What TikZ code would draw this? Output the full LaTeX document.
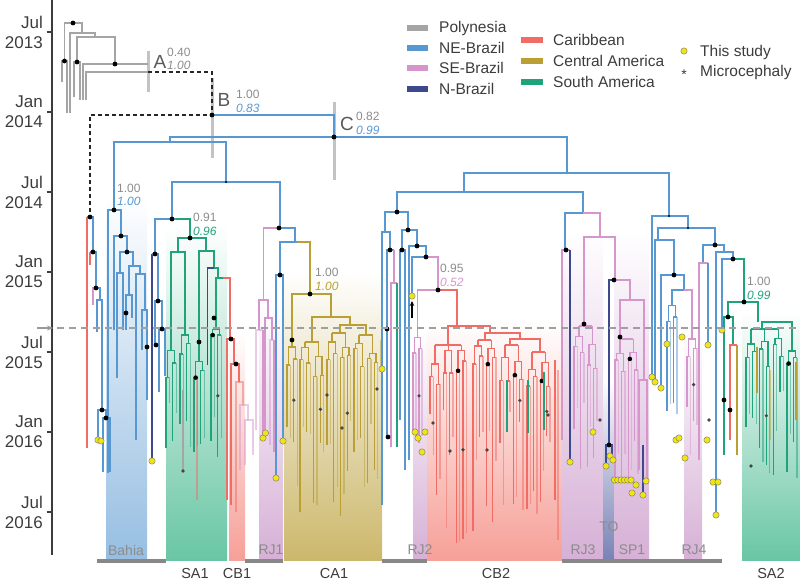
\documentclass[tikz,border=0pt]{standalone}
\usepackage{fontspec}
\setmainfont{Liberation Sans}
\usetikzlibrary{arrows.meta}
\definecolor{cPoly}{RGB}{165,165,165}
\definecolor{cNE}{RGB}{88,152,210}
\definecolor{cSE}{RGB}{214,150,204}
\definecolor{cNB}{RGB}{62,72,140}
\definecolor{cCB}{RGB}{240,108,100}
\definecolor{cCA}{RGB}{186,160,52}
\definecolor{cSA}{RGB}{32,162,122}
\definecolor{cYel}{RGB}{240,228,20}
\definecolor{cTxt}{RGB}{60,60,60}
\definecolor{cLab}{RGB}{140,140,140}
\definecolor{cBar}{RGB}{195,195,195}
\definecolor{cGbar}{RGB}{135,135,135}
\definecolor{sBahia}{RGB}{150,190,226}
\definecolor{sSA}{RGB}{105,198,165}
\definecolor{sCB}{RGB}{246,160,152}
\definecolor{sSE}{RGB}{214,176,214}
\definecolor{sCA}{RGB}{204,184,108}
\definecolor{sTO}{RGB}{120,130,182}
\newcommand\grp[7]{%
 \pgfmathsetmacro\zxa{#2+1.5*#3}%
 \pgfmathsetmacro\zxb{#2+(4*#4-2.5)*#3}%
 \draw[#1] (\zxa,#5)--(\zxb,#5);
 \foreach \g in {1,...,#4}{%
   \pgfmathsetmacro\zgx{#2+(4*\g-4)*#3}%
   \pgfmathsetmacro\zga{#5+5+rnd*16}%
   \pgfmathsetmacro\zgb{\zga+4+rnd*24}%
   \pgfmathsetmacro\zgc{\zga+4+rnd*24}%
   \pgfmathsetmacro\zea{#6+rnd*#7}%
   \pgfmathsetmacro\zeb{#6+rnd*#7}%
   \pgfmathsetmacro\zec{#6+rnd*#7}%
   \pgfmathsetmacro\zed{#6+rnd*#7}%
   \draw[#1] (\zgx+1.5*#3,#5)--(\zgx+1.5*#3,\zga);
   \draw[#1] (\zgx+0.5*#3,\zgb)--(\zgx+0.5*#3,\zga)--(\zgx+2.5*#3,\zga)--(\zgx+2.5*#3,\zgc);
   \draw[#1] (\zgx,\zea)--(\zgx,\zgb)--(\zgx+#3,\zgb);
   \draw[#1,draw opacity=0.5] (\zgx+#3,\zgb)--(\zgx+#3,\zeb);
   \draw[#1] (\zgx+2*#3,\zec)--(\zgx+2*#3,\zgc)--(\zgx+3*#3,\zgc);
   \draw[#1,draw opacity=0.5] (\zgx+3*#3,\zgc)--(\zgx+3*#3,\zed);
   \pgfmathtruncatemacro\zdd{rnd<0.35}%
   \ifnum\zdd=1 \fill (\zgx+0.5*#3,\zgb) circle (2.3pt);\fi
   \pgfmathtruncatemacro\zss{rnd<0.3}%
   \ifnum\zss=1 \fill[gray!55!black] (\zgx+2*#3,{(\zgc+\zec)/2}) circle (1.8pt);\fi
 }}
\newcommand\yel[2]{\filldraw[fill=cYel,draw=black!55,line width=0.4pt] (#1,#2) circle (3.2pt);}
\newcommand\dotb[2]{\fill (#1,#2) circle (2.4pt);}
\newcommand\stg[2]{\fill[gray!55!black] (#1,#2) circle (1.8pt);}
\begin{document}
\begin{tikzpicture}[x=1pt,y=-1pt,
  br/.style={line width=1.3pt},
  poly/.style={br,draw=cPoly},
  ne/.style={br,draw=cNE},
  se/.style={br,draw=cSE},
  sep/.style={br,draw=cSE,draw opacity=0.5},
  nb/.style={br,draw=cNB},
  cb/.style={br,draw=cCB},
  cbp/.style={br,draw=cCB,draw opacity=0.5},
  ca/.style={br,draw=cCA},
  capale/.style={br,draw=cCA,draw opacity=0.5},
  sa/.style={br,draw=cSA},
  dsh/.style={line width=1.2pt,draw=black!85,dash pattern=on 4pt off 3pt},
  ticklab/.style={font=\fontsize{17}{20}\selectfont,text=cTxt,align=right,anchor=east,inner sep=0pt},
  leg/.style={font=\fontsize{15.5}{18}\selectfont,text=cTxt,anchor=west,inner sep=0pt},
  num/.style={font=\fontsize{12}{12}\selectfont,anchor=west,inner sep=0pt},
  inum/.style={font=\fontsize{12}{12}\selectfont\itshape,anchor=west,inner sep=0pt},
  big/.style={font=\fontsize{19}{22}\selectfont,text=black!65,inner sep=0pt},
  inlab/.style={font=\fontsize{14}{16}\selectfont,text=cLab,inner sep=0pt},
  outlab/.style={font=\fontsize{14.5}{15}\selectfont,text=cTxt,inner sep=0pt}]
\pgfmathsetseed{11}
\useasboundingbox (0,0) rectangle (800,581);
% ---------- clade shading
\shade[top color=white,bottom color=sBahia] (106,195) rectangle (147,560);
\shade[top color=white,bottom color=sSA] (166,225) rectangle (227,560);
\shade[top color=white,bottom color=sCB] (229,330) rectangle (245,560);
\shade[top color=white,bottom color=sSE] (259,300) rectangle (283,560);
\shade[top color=white,bottom color=sCA] (284,270) rectangle (382,560);
\shade[top color=white,bottom color=sSE] (413,330) rectangle (427,560);
\shade[top color=white,bottom color=sCB] (427,320) rectangle (562,560);
\shade[top color=white,bottom color=sSE] (562,230) rectangle (603,560);
\shade[top color=white,bottom color=sTO] (603,380) rectangle (614,560);
\shade[top color=white,bottom color=sSE] (614,230) rectangle (649,560);
\shade[top color=white,bottom color=sSE] (684,330) rectangle (702,560);
\shade[top color=white,bottom color=sSA] (742,310) rectangle (800,560);
% ---------- bottom grey bars
\fill[cGbar] (97,559) rectangle (166,563);
\fill[cGbar] (245,559) rectangle (283,563);
\fill[cGbar] (382,559) rectangle (427,563);
\fill[cGbar] (562,559) rectangle (722,563);
% ---------- axis
\draw[cTxt,line width=1.3pt] (52,0)--(52,555);
\foreach \y/\m/\yr in {32/Jul/2013,112/Jan/2014,192/Jul/2014,272/Jan/2015,352/Jul/2015,432/Jan/2016,512/Jul/2016}{
  \draw[cTxt,line width=1.3pt] (47,\y)--(52,\y);
  \node[ticklab] (t\y) at (43,\y) {\m\\\yr};
}
% ---------- HPD bars
\fill[cBar] (146.5,51) rectangle (150,92);
\fill[cBar] (210.5,78) rectangle (214,158);
\fill[cBar] (332.5,102) rectangle (336,180);
% ---------- Polynesia
\draw[poly] (62,82)--(62,61)--(67,61)--(67,113);
\draw[poly] (64.5,61)--(64.5,23)--(82,23)--(82,33);
\draw[poly] (70,113)--(70,33)--(95,33)--(95,37);
\draw[poly] (77,62)--(77,37)--(115,37)--(115,64);
\draw[poly] (74,97)--(74,62)--(80,62)--(80,100);
\draw[poly] (83,100)--(83,64)--(148,64);
\draw[poly] (86,100)--(86,72)--(148,72);
\dotb{73}{23}\dotb{64.5}{61}\dotb{77}{62}\dotb{115}{64}
% ---------- dashed ancestry
\draw[dsh] (148,72)--(212,72)--(212,115)--(90,115)--(90,217);
% ---------- backbone
\draw[ne] (212,115)--(334,115)--(334,137);
\draw[ne] (170,142)--(170,137)--(567,137)--(567,173);
\draw[ne] (114,210)--(114,142)--(226,142)--(226,182);
\draw[ne] (172,219)--(172,182)--(280,182)--(280,228);
\draw[ne] (464,192)--(464,173)--(669,173)--(669,216);
\draw[ne] (397,212)--(397,192)--(583,192)--(583,213);
% ---------- left lineage
\draw[cb] (87,217)--(87,448);
\draw[ne] (87,217)--(93,217)--(93,252);
\draw[cb] (90,252)--(90,265);
\draw[ne] (90,252)--(96,252)--(96,288);
\draw[se] (93,305)--(93,288)--(96,288);
\draw[ne] (96,288)--(100,288)--(100,300);
\draw[ne] (97,332)--(97,300)--(102,300)--(102,410);
\draw[ne] (98,440)--(98,410)--(106,410)--(106,418);
\draw[ne] (103,472)--(103,418)--(110,418)--(110,472);
% ---------- Bahia
\draw[ne] (108,473)--(108,210)--(121,210)--(121,236);
\draw[ne] (114,330)--(114,236)--(127,236)--(127,252);
\draw[ne] (120,273)--(120,252)--(133,252)--(133,266);
\draw[ne] (117,378)--(117,273)--(123,273)--(123,330);
\draw[ne] (129,295)--(129,266)--(140,266)--(140,274);
\draw[ne] (126,330)--(126,295)--(132,295)--(132,318);
\draw[ne] (136,440)--(136,274)--(145,274)--(145,310);
\draw[ne] (142,350)--(142,310)--(147,310)--(147,400);
\draw[nb] (152,461)--(152,254);
% ---------- SA1
\draw[ne] (155,254)--(155,219)--(176,219);
\draw[sa] (176,219)--(190,219)--(190,238);
\draw[ne] (152,254)--(158,254)--(158,301);
\draw[ne] (155,345)--(155,301)--(162,301)--(162,329);
\draw[ne] (159,392)--(159,329)--(165,329)--(165,376);
\draw[sa] (178,252)--(178,238)--(206,238)--(206,251);
\draw[sa] (171.1,335)--(171.1,252)--(185.1,252)--(185.1,320);
\draw[sa] (199.1,345)--(199.1,251)--(214,251)--(214,268);
\draw[nb] (207.5,365)--(207.5,268)--(214,268);
\draw[sa] (214,268)--(218,268)--(218,278);
\draw[sa] (216.1,320)--(216.1,278)--(223,278);
\draw[cb] (223,278)--(230,278)--(230,339);
\grp{sa}{166}{3.4}{1}{335}{400}{70}
\grp{sa}{180}{3.4}{1}{320}{400}{70}
\grp{sa}{194}{3.4}{1}{345}{400}{70}
\grp{sa}{211}{3.4}{1}{320}{400}{70}
\draw[cbp] (197,380)--(197,500);
\draw[poly] (183,390)--(183,471);
% ---------- CB1
\draw[cb] (227,500)--(227,339)--(234,339)--(234,364);
\draw[cb] (231,505)--(231,364)--(239,364)--(239,382);
\draw[cbp] (236,512)--(236,382)--(243,382)--(243,405);
\draw[sep] (240,470)--(240,405)--(248,405)--(248,420);
\draw[sep] (245,465)--(245,420)--(253,420)--(253,455);
% ---------- RJ1
\draw[se] (263.5,300)--(263.5,228)--(279,228);
\draw[ne] (279,228)--(295,228)--(295,242);
\draw[ne] (280,275)--(280,242)--(297,242);
\draw[ca] (297,242)--(310,242)--(310,294);
\draw[ne] (276,478)--(276,275)--(283,275)--(283,441);
\draw[se] (259,330)--(259,300)--(268,300)--(268,318);
\draw[sep] (256,430)--(256,330)--(263,330);
\draw[se] (263,330)--(263,438);
\draw[se] (265,433)--(265,318)--(272,318)--(272,340);
\draw[sep] (270,445)--(270,340)--(274,340);
\draw[se] (274,340)--(274,452);
% ---------- CA1
\draw[ca] (292.1,340)--(292.1,294)--(331,294)--(331,317);
\draw[ca] (312,342)--(312,317)--(350,317)--(350,325);
\draw[ca] (340,333)--(340,325)--(366,325)--(366,335);
\grp{ca}{287}{3.4}{1}{340}{420}{105}
\grp{ca}{300}{3.4}{2}{342}{420}{105}
\grp{ca}{327}{3.4}{2}{333}{420}{105}
\grp{ca}{354}{3.4}{2}{335}{420}{105}
\draw[capale] (381,340)--(381,369);
% ---------- central clade (RJ2, CB2)
\draw[ne] (385,232)--(385,212)--(408,212)--(408,230);
\draw[ne] (382,505)--(382,232)--(390,232)--(390,250);
\draw[ne] (387,437)--(387,250)--(394,250);
\draw[se] (394,250)--(394,283);
\draw[se] (391,447)--(391,283)--(397,283);
\draw[sa] (397,283)--(397,447);
\draw[ne] (402,250)--(402,230)--(417,230)--(417,246);
\draw[ne] (400,420)--(400,250)--(405,250)--(405,470);
\draw[ne] (409,460)--(409,246)--(426,246)--(426,257);
\draw[ne] (412,296)--(412,257)--(426,257);
\draw[se] (426,257)--(438,257)--(438,290);
\draw[se] (417.5,330)--(417.5,290)--(438,290);
\draw[cb] (438,290)--(457,290)--(457,326);
\grp{se}{413}{3}{1}{330}{425}{30}
\draw[cb] (448,345)--(448,326)--(490,326)--(490,333);
\draw[cb] (485,340)--(485,333)--(520,333)--(520,339);
\draw[cb] (510,345)--(510,339)--(540,339)--(540,352);
\grp{cb}{430}{3.3}{3}{345}{410}{135}
\grp{cb}{473}{3.3}{2}{340}{410}{135}
\grp{cb}{500}{3.3}{2}{345}{410}{135}
\grp{cb}{527}{3.3}{2}{352}{410}{135}
\draw[cb] (555,360)--(555,500);
\draw[cbp] (558,370)--(558,540);
\draw[sa] (507,380)--(507,432);
\draw[sa] (528,380)--(528,433);
\draw[sa] (544,372)--(544,430);
\draw[-{Stealth[length=5pt,width=4.5pt]},line width=1.4pt] (412,318)--(412,301);
% ---------- RJ3 / TO / SP1
\draw[ne] (565,250)--(565,213)--(583,213);
\draw[se] (583,213)--(600,213)--(600,237);
\draw[se] (562,440)--(562,250)--(570,250);
\draw[nb] (570,250)--(570,462);
\draw[se] (584,326)--(584,237)--(615,237)--(615,280);
\draw[nb] (609,445)--(609,280)--(615,280);
\draw[se] (615,280)--(630,280)--(630,300);
\draw[se] (620,339)--(620,300)--(644,300)--(644,380);
\draw[se] (639,470)--(639,380)--(647,380)--(647,481);
\draw[nb] (606,466)--(606,445)--(612,445)--(612,458);
\draw[nb] (643,445)--(643,495);
\grp{se}{574}{3.3}{2}{326}{400}{70}
\grp{se}{615}{3.3}{2}{339}{430}{55}
% ---------- right clade
\draw[ne] (652,377)--(652,216)--(688,216)--(688,228);
\draw[ne] (658,240)--(658,228)--(715,228)--(715,245);
\draw[ne] (655,382)--(655,240)--(674,240)--(674,275);
\draw[ne] (661,388)--(661,275)--(684,275)--(684,290);
\draw[ne] (672,300)--(672,290)--(684,290);
\draw[se] (684,290)--(692,290)--(692,325);
\grp{ne}{667}{3.3}{1}{300}{360}{90}
\grp{se}{687}{3.3}{1}{325}{400}{80}
\draw[ne] (703,263)--(703,245)--(724,245)--(724,252);
\draw[se] (699,460)--(699,263)--(708,263);
\draw[ne] (708,263)--(708,345);
\draw[ne] (716,515)--(716,252)--(733,252)--(733,259);
\draw[ne] (722,330)--(722,259)--(733,259);
\draw[sa] (733,259)--(744,259)--(744,302);
\draw[sa] (728,317)--(728,302)--(758,302)--(758,322);
\draw[sa] (724,455)--(724,317)--(733,317)--(733,345);
\draw[cb] (730,440)--(730,345)--(737,345);
\draw[ca] (737,345)--(737,455);
\draw[sa] (762,329)--(762,322)--(792,322)--(792,345);
\grp{sa}{746}{3.4}{3}{329}{390}{90}
\grp{sa}{787}{3.3}{1}{345}{400}{80}
\draw[ca] (757,347)--(757,393);
\draw[ca] (796,362)--(796,420);
\draw[capale] (770,370)--(770,440);
% ---------- support dots
\dotb{90}{217}\dotb{93}{252}\dotb{96}{288}\dotb{102}{410}\dotb{106}{418}
\dotb{212}{115}\dotb{334}{137}\dotb{114}{210}\dotb{121}{236}\dotb{127}{252}\dotb{126}{313}\dotb{147}{347}
\dotb{172}{219}\dotb{190}{238}\dotb{155}{254}\dotb{158}{301}\dotb{162}{329}\dotb{156}{345}\dotb{199}{342}\dotb{214}{318}
\dotb{231}{339}\dotb{236}{364}\dotb{279}{228}\dotb{310}{294}\dotb{292}{340}\dotb{280}{275}
\dotb{397}{212}\dotb{408}{230}\dotb{390}{250}\dotb{402}{250}\dotb{417}{246}\dotb{426}{257}\dotb{438}{290}\dotb{387}{329}\dotb{388}{437}
\dotb{566}{250}\dotb{584}{324}\dotb{614}{280}\dotb{620}{337}\dotb{609}{445}
\dotb{715}{245}\dotb{733}{259}\dotb{744}{302}\dotb{674}{275}\dotb{728}{317}\dotb{724}{400}\dotb{730}{410}
\fill (226,182) circle (1.2pt); \fill (669,216) circle (1.2pt); \fill (688,228) circle (1.2pt);
\stg{183}{471}\stg{327}{395}\stg{342}{428}\stg{377}{389}\stg{433}{423}\stg{450}{451}\stg{487}{450}\stg{548}{415}\stg{600}{420}\stg{709}{420}\stg{751}{466}
% ---------- yellow tips (this study)
\yel{98}{440}\yel{101}{441}\yel{152}{461}\yel{263}{438}\yel{265.5}{433}\yel{283}{441}\yel{276}{478}\yel{382}{369}
\yel{412}{296}\yel{415}{432}\yel{418}{438}\yel{425}{432}\yel{422}{452}
\yel{570}{462}\yel{593}{432}\yel{606}{466}\yel{610}{456}\yel{613}{460}
\foreach \x in {614.5,617.8,621.1,624.4,627.7,631}{\yel{\x}{480}}
\yel{636}{485}\yel{632}{493}\yel{646}{481}\yel{643}{495}
\yel{652}{377}\yel{655}{382}\yel{661}{388}\yel{667}{344}\yel{682}{337}\yel{708}{345}\yel{722}{330}
\yel{676}{440}\yel{679}{438}\yel{685}{458}\yel{707}{440}\yel{713}{482}\yel{718}{482}\yel{716}{515}
% ---------- time-of-sampling line
\draw[gray!75,line width=1.5pt,dash pattern=on 7pt off 5pt] (57,328)--(800,328);
\draw[gray!80,line width=1.2pt,-{Stealth[length=6pt,width=5pt]}] (37,328)--(53,328);
% ---------- node labels
\node[big] (lA) at (160,62) {A};
\node[num,text=cLab] (pA1) at (167,52) {0.40};
\node[inum,text=cLab] (pA2) at (167,65.5) {1.00};
\node[big] (lB) at (224,100) {B};
\node[num,text=cLab] (pB1) at (236,94.5) {1.00};
\node[inum,text=cNE] (pB2) at (236,108) {0.83};
\node[big] (lC) at (347,124) {C};
\node[num,text=cLab] (pC1) at (356,116.5) {0.82};
\node[inum,text=cNE] (pC2) at (356,130) {0.99};
\node[num,text=cLab] (pBa1) at (117,188.5) {1.00};
\node[inum,text=cNE] (pBa2) at (117,201.5) {1.00};
\node[num,text=cLab] (pS1) at (193,217.5) {0.91};
\node[inum,text=cSA] (pS2) at (193,231) {0.96};
\node[num,text=cLab] (pCA1) at (315,272.5) {1.00};
\node[inum,text=cCA] (pCA2) at (315,286) {1.00};
\node[num,text=cLab] (pCB1) at (440,268.5) {0.95};
\node[inum,text=cSE] (pCB2) at (440,282) {0.52};
\node[num,text=cLab] (pSA1) at (747,281.5) {1.00};
\node[inum,text=cSA] (pSA2) at (747,295) {0.99};
% ---------- clade labels
\node[inlab] (cBahia) at (126,550) {Bahia};
\node[inlab] (cRJ1) at (271,550) {RJ1};
\node[inlab] (cRJ2) at (420,550) {RJ2};
\node[inlab] (cRJ3) at (583,550) {RJ3};
\node[inlab] (cTO) at (609,527) {TO};
\node[inlab] (cSP1) at (632,550) {SP1};
\node[inlab] (cRJ4) at (694,550) {RJ4};
\node[outlab] (cSA1) at (195,573.5) {SA1};
\node[outlab] (cCB1) at (237,573.5) {CB1};
\node[outlab] (cCA1) at (334,573.5) {CA1};
\node[outlab] (cCB2) at (496,573.5) {CB2};
\node[outlab] (cSA2) at (771,573.5) {SA2};
% ---------- legend
\foreach \y/\c/\t in {28/cPoly/Polynesia,48/cNE/NE-Brazil,68/cSE/SE-Brazil,89/cNB/N-Brazil}{
  \fill[\c] (407,\y-3) rectangle (428,\y+3);
  \node[leg] (lg\y) at (439,\y) {\t};
}
\foreach \y/\c/\t in {40/cCB/Caribbean,61/cCA/Central America,82/cSA/South America}{
  \fill[\c] (521,\y-3) rectangle (543,\y+3);
  \node[leg] (lh\y) at (553,\y) {\t};
}
\yel{684}{51}
\node[leg] (lgys) at (700,52) {This study};
\node[font=\fontsize{14}{16}\selectfont,text=cTxt,inner sep=0pt] (lgst) at (684,75) {*};
\node[leg] (lgmc) at (700,72) {Microcephaly};
\end{tikzpicture}
\end{document}
